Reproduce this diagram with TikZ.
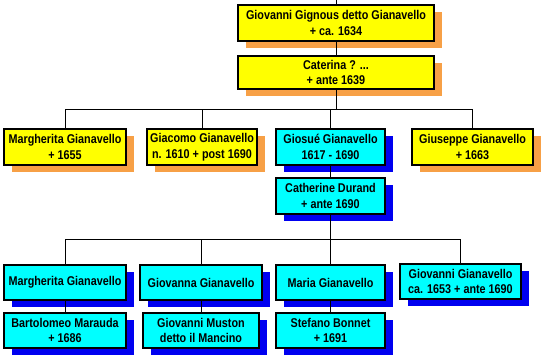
\documentclass[tikz,border=0pt]{standalone}
\usepackage{fontspec}
\setmainfont{Liberation Sans}[FakeStretch=0.85]
\usetikzlibrary{shadows}
\definecolor{yel}{HTML}{FFFF00}
\definecolor{cya}{HTML}{00FFFF}
\definecolor{orng}{HTML}{F7A046}
\definecolor{blu}{HTML}{0000F0}
\begin{document}
\begin{tikzpicture}[x=1pt,y=-1pt,
  person/.style={draw=black, line width=1.8pt, align=center, inner sep=0pt,
     font=\fontsize{12.7}{15.5}\selectfont\bfseries},
  ybox/.style={person, fill=yel, drop shadow={opacity=1, fill=orng, draw=none, shadow xshift=8pt, shadow yshift=-7pt}},
  cbox/.style={person, fill=cya, drop shadow={opacity=1, fill=blu, draw=none, shadow xshift=8pt, shadow yshift=-7pt}},
  link/.style={draw=black, line width=0.9pt},
  thick link/.style={draw=black, line width=1.8pt}]
\useasboundingbox (0,0) rectangle (554,362);
\node[ybox, minimum width=196pt, minimum height=36pt] (g1) at (336,23) {Giovanni Gignous detto Gianavello\\+ ca. 1634};
\node[ybox, minimum width=196pt, minimum height=33pt] (g2) at (336,72.5) {Caterina ? ...\\+ ante 1639};
\node[ybox, minimum width=122pt, minimum height=36pt] (m1) at (65,147) {Margherita Gianavello\\+ 1655};
\node[ybox, minimum width=110pt, minimum height=36pt] (gc) at (202,147) {Giacomo Gianavello\\n. 1610 + post 1690};
\node[cbox, minimum width=109pt, minimum height=36pt] (gs) at (330.5,147) {Giosué Gianavello\\1617 - 1690};
\node[ybox, minimum width=121pt, minimum height=36pt] (gp) at (472.5,147) {Giuseppe Gianavello\\+ 1663};
\node[cbox, minimum width=109pt, minimum height=36pt] (cd) at (330.5,196) {Catherine Durand\\+ ante 1690};
\node[cbox, minimum width=122pt, minimum height=35pt] (m2) at (65,282.5) {Margherita Gianavello};
\node[cbox, minimum width=122pt, minimum height=35pt] (gv) at (201,282.5) {Giovanna Gianavello};
\node[cbox, minimum width=109pt, minimum height=35pt] (mr) at (330.5,282.5) {Maria Gianavello};
\node[cbox, minimum width=121pt, minimum height=35pt] (gg) at (460.5,281.5) {Giovanni Gianavello\\ca. 1653 + ante 1690};
\node[cbox, minimum width=122pt, minimum height=35pt] (bm) at (65,330.5) {Bartolomeo Marauda\\+ 1686};
\node[cbox, minimum width=116pt, minimum height=35pt] (gm) at (201,330.5) {Giovanni Muston\\detto il Mancino};
\node[cbox, minimum width=109pt, minimum height=35pt] (sb) at (330.5,330.5) {Stefano Bonnet\\+ 1691};
\coordinate (top) at (336,0);
\coordinate (bus1) at (0,109);
\coordinate (bus2) at (0,239);
\draw[link] (top) -- (g1.north);
\draw[link] (g1.south) -- (g2.north);
\draw[link] (g2.south) -- (g2.south |- bus1);
\draw[link] (m1.north) -- (m1.north |- bus1) -- (gp.north |- bus1) -- (gp.north);
\draw[link] (gc.north) -- (gc.north |- bus1);
\draw[link] (gs.north) -- (gs.north |- bus1);
\draw[link] (gs.south) -- (cd.north);
\draw[thick link] (cd.south) -- (cd.south |- bus2);
\draw[link] (m2.north) -- (m2.north |- bus2) -- (gg.north |- bus2) -- (gg.north);
\draw[link] (gv.north) -- (gv.north |- bus2);
\draw[link] (mr.north) -- (mr.north |- bus2);
\draw[link] (m2.south) -- (bm.north);
\draw[link] (gv.south) -- (gm.north);
\draw[link] (mr.south) -- (sb.north);
\end{tikzpicture}
\end{document}
